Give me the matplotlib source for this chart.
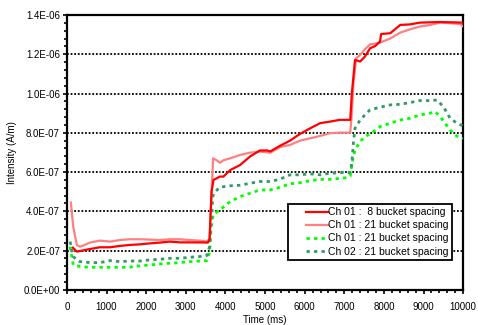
import matplotlib
matplotlib.use("Agg")
import matplotlib.pyplot as plt
from matplotlib.lines import Line2D
from matplotlib.legend_handler import HandlerLine2D
from matplotlib.ticker import MultipleLocator, FuncFormatter

plt.rcParams['font.family'] = ['Liberation Sans', 'DejaVu Sans']

SCALE = 1e-7  # values below are in units of 1E-07 A/m

# Ch 01 : 8 bucket spacing
t_ch01_8 = [150, 250, 330, 580, 830, 1090, 1340, 1590, 1840, 2100, 2350, 2600, 2850,
            3100, 3360, 3560, 3600, 3650, 3700, 3860, 3950, 4120, 4370, 4620, 4870,
            5050, 5130, 5380, 5630, 5880, 6140, 6390, 6640, 6890, 7150, 7190, 7270,
            7400, 7520, 7650, 7780, 7900, 7930, 8160, 8410, 8660, 8910, 9420, 10000]
v_ch01_8 = [2.15, 1.95, 1.98, 2.08, 2.17, 2.17, 2.24, 2.29, 2.32, 2.37, 2.41, 2.46, 2.42,
            2.42, 2.42, 2.41, 2.6, 5.0, 5.6, 5.77, 5.77, 6.1, 6.36, 6.79, 7.1,
            7.1, 7.05, 7.34, 7.6, 7.94, 8.23, 8.49, 8.57, 8.66, 8.66, 10.0, 11.71,
            11.63, 11.88, 12.3, 12.42, 12.64, 13.03, 13.07, 13.49, 13.52, 13.61, 13.64, 13.61]

# Ch 01 : 21 bucket spacing (solid)
t_ch01_21 = [100, 160, 250, 330, 450, 580, 830, 1090, 1340, 1590, 1840, 2100, 2350, 2600,
             2850, 3100, 3360, 3530, 3600, 3650, 3690, 3780, 3860, 3950, 4120, 4370, 4620,
             4870, 5130, 5380, 5630, 5880, 6140, 6390, 6640, 6890, 7150, 7190, 7230, 7300,
             7400, 7520, 7650, 7900, 8160, 8410, 8660, 8910, 9170, 9420, 9670, 9920, 10000]
v_ch01_21 = [4.45, 3.2, 2.29, 2.2, 2.29, 2.41, 2.51, 2.46, 2.54, 2.58, 2.58, 2.56, 2.54, 2.58,
             2.58, 2.54, 2.51, 2.46, 2.6, 5.0, 6.7, 6.6, 6.47, 6.6, 6.7, 6.87, 6.99,
             7.04, 6.99, 7.27, 7.38, 7.6, 7.72, 7.84, 7.98, 8.01, 8.01, 9.0, 10.5, 11.8,
             11.96, 12.25, 12.5, 12.59, 12.8, 13.1, 13.27, 13.41, 13.49, 13.61, 13.58, 13.54, 13.41]

# Ch 01 : 21 bucket spacing (dashed)
t_ch01_21d = [80, 160, 330, 580, 830, 1090, 1340, 1590, 1700, 1840, 2100, 2350, 2600, 2850,
              3100, 3360, 3530, 3600, 3640, 3690, 3860, 4120, 4370, 4620, 4870, 5130, 5380,
              5630, 5880, 6140, 6390, 6640, 6890, 7100, 7150, 7200, 7270, 7400, 7520, 7650,
              7900, 8160, 8410, 8660, 8910, 9170, 9290, 9420, 9670, 9840, 10000]
v_ch01_21d = [2.2, 1.27, 1.19, 1.15, 1.15, 1.15, 1.15, 1.15, 1.22, 1.22, 1.27, 1.32, 1.36, 1.39,
              1.44, 1.47, 1.49, 1.9, 3.2, 3.85, 4.07, 4.5, 4.75, 4.92, 5.09, 5.09, 5.23,
              5.4, 5.46, 5.56, 5.63, 5.63, 5.68, 5.72, 5.8, 6.5, 7.13, 7.55, 7.81, 7.94,
              8.31, 8.49, 8.65, 8.74, 8.91, 9.0, 9.08, 8.82, 8.14, 7.83, 7.72]

# Ch 02 : 21 bucket spacing
t_ch02_21 = [80, 160, 250, 330, 580, 830, 1090, 1340, 1590, 1840, 2100, 2350, 2600, 2850,
             3100, 3360, 3530, 3600, 3640, 3680, 3700, 3860, 4120, 4370, 4620, 4870, 5130,
             5380, 5630, 5880, 6140, 6390, 6640, 6890, 7100, 7150, 7190, 7230, 7270, 7400,
             7520, 7650, 7900, 8160, 8410, 8660, 8910, 9170, 9340, 9500, 9670, 9840, 10000]
v_ch02_21 = [2.46, 1.7, 1.53, 1.44, 1.39, 1.39, 1.49, 1.44, 1.47, 1.47, 1.53, 1.56, 1.61, 1.61,
             1.66, 1.7, 1.75, 2.2, 3.5, 4.7, 4.92, 5.23, 5.3, 5.33, 5.43, 5.52, 5.52,
             5.64, 5.86, 5.86, 5.91, 5.86, 5.94, 5.97, 5.97, 6.0, 6.45, 7.5, 8.23, 8.65,
             8.91, 9.17, 9.3, 9.42, 9.45, 9.54, 9.64, 9.64, 9.67, 9.33, 8.74, 8.49, 8.35]

labels = ["Ch 01 :  8 bucket spacing", "Ch 01 : 21 bucket spacing",
          "Ch 01 : 21 bucket spacing", "Ch 02 : 21 bucket spacing"]


def scaled(vals):
    return [v * SCALE for v in vals]


fig = plt.figure(figsize=(4.78, 3.25), dpi=100)
ax = fig.add_axes([0.140, 0.108, 0.829, 0.846])

ax.plot(t_ch01_8, scaled(v_ch01_8), color='#FF0000', lw=1.6, label=labels[0], zorder=5)
ax.plot(t_ch01_21, scaled(v_ch01_21), color='#FF8080', lw=1.6, label=labels[1], zorder=4)
ax.plot(t_ch01_21d, scaled(v_ch01_21d), color='#00FF00', lw=2.0,
        linestyle=(0, (1.2, 1.5)), dash_capstyle='butt', label=labels[2], zorder=3)
ax.plot(t_ch02_21, scaled(v_ch02_21), color='#339966', lw=2.0,
        linestyle=(0, (1.2, 1.5)), dash_capstyle='butt', label=labels[3], zorder=3)

ax.set_xlim(0, 10000)
ax.set_ylim(0, 1.4e-6)
ax.xaxis.set_major_locator(MultipleLocator(1000))
ax.xaxis.set_minor_locator(MultipleLocator(200))
ax.yaxis.set_major_locator(MultipleLocator(2e-7))
ax.yaxis.set_minor_locator(MultipleLocator(0.4e-7))
ax.yaxis.set_major_formatter(FuncFormatter(lambda v, p: f"{v:.1E}"))

ax.tick_params(axis='both', which='major', direction='out', length=3, width=1.2,
               labelsize=7, pad=2)
ax.tick_params(axis='both', which='minor', direction='out', length=2, width=1.2)
ax.tick_params(axis='x', which='major', pad=6)

for s in ax.spines.values():
    s.set_linewidth(1.6)
    s.set_color('black')

for yv in [2e-7, 4e-7, 6e-7, 8e-7, 1.0e-6, 1.2e-6]:
    ax.axhline(yv, color='black', lw=1.3, linestyle=(0, (1, 1)), zorder=1)

ax.set_xlabel("Time (ms)", fontsize=7, labelpad=2)
ax.set_ylabel("Intensity (A/m)", fontsize=7, labelpad=5)

leg = ax.legend(loc='upper right', bbox_to_anchor=(0.971, 0.312), fontsize=7.5,
                frameon=True, fancybox=False, framealpha=1, edgecolor='black',
                handlelength=3.5, handletextpad=0.0, borderpad=0.3, labelspacing=0.3,
                borderaxespad=0, handler_map={Line2D: HandlerLine2D(xpad=1.4)})
leg.get_frame().set_linewidth(1.3)
leg.set_zorder(10)

fig.savefig("out.png", dpi=100)
